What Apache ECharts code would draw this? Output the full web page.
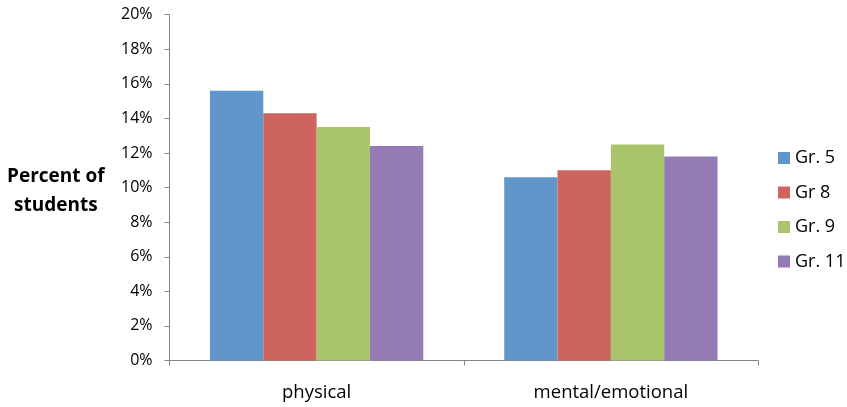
<!DOCTYPE html>
<html><head><meta charset="utf-8">
<script src="https://cdn.jsdelivr.net/npm/echarts@6/dist/echarts.min.js"></script>
<style>html,body{margin:0;padding:0;background:#fff}#c{width:847px;height:407px}</style>
</head><body><div id="c"></div>
<script>
const categories = ['physical', 'mental/emotional'];
const seriesNames = ['Gr. 5', 'Gr 8', 'Gr. 9', 'Gr. 11'];
const gr5 = [15.6, 10.6];
const gr8 = [14.3, 11.0];
const gr9 = [13.5, 12.5];
const gr11 = [12.4, 11.8];
const yTicks = [0, 2, 4, 6, 8, 10, 12, 14, 16, 18, 20];
const colors = ['#6096CA', '#CD655E', '#AAC46C', '#957BB3'];
const values = [gr5, gr8, gr9, gr11];
const font = 'Open Sans';

const chart = echarts.init(document.getElementById('c'), null, {renderer: 'canvas'});
chart.setOption({
  animation: false,
  color: colors,
  grid: {left: 169.5, right: 89, top: 14.7, bottom: 46.5, containLabel: false},
  graphic: [{
    type: 'text', left: 7, top: 162,
    style: {text: 'Percent of\nstudents', font: 'bold 19px "Open Sans"', fill: '#000', textAlign: 'center', lineHeight: 29},
  }],
  legend: {
    orient: 'vertical', left: 778, top: 148, padding: 0,
    itemWidth: 12, itemHeight: 12, itemGap: 14.5,
    icon: 'rect',
    textStyle: {fontFamily: font, fontSize: 18, color: '#000', lineHeight: 20},
    data: seriesNames
  },
  xAxis: {
    type: 'category', data: categories,
    axisLine: {lineStyle: {color: '#868686', width: 1}},
    axisTick: {show: true, length: 5, lineStyle: {color: '#868686'}},
    axisLabel: {fontFamily: font, fontSize: 18.5, color: '#000', margin: 23}
  },
  yAxis: {
    type: 'value', min: yTicks[0], max: yTicks[yTicks.length - 1], interval: 2,
    axisLine: {show: true, lineStyle: {color: '#868686', width: 1}},
    axisTick: {show: true, length: 5, lineStyle: {color: '#868686'}},
    splitLine: {show: false},
    axisLabel: {fontFamily: font, fontSize: 16, color: '#000', margin: 17, formatter: v => v + '%'}
  },
  series: seriesNames.map((n, i) => ({
    name: n, type: 'bar', data: values[i],
    barGap: '0%', barCategoryGap: '27.5%',
    itemStyle: {color: colors[i]}
  }))
});
</script></body></html>
